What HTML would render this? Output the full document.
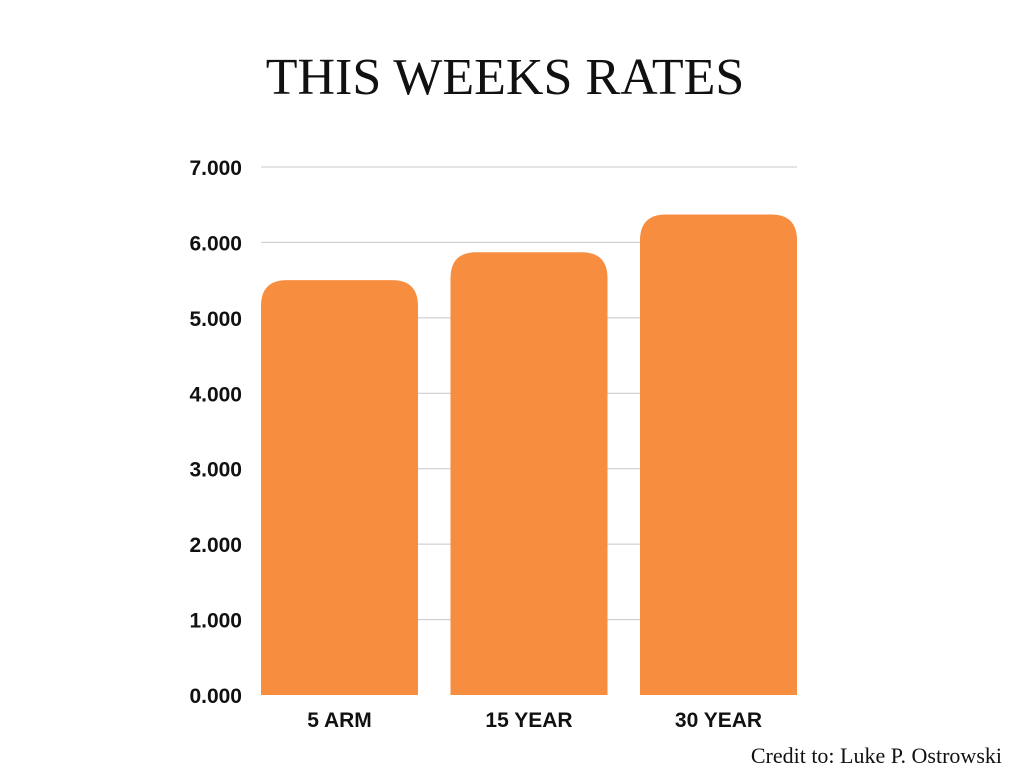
<!DOCTYPE html>
<html><head><meta charset="utf-8"><style>
body{margin:0;background:#fff;width:1024px;height:768px;overflow:hidden}
svg text{font-family:"Liberation Sans",sans-serif}
</style></head><body>
<svg width="1024" height="768">
<text x="505" y="94" text-anchor="middle" font-family="Liberation Serif, serif" style="font-family:'Liberation Serif',serif" font-size="52" fill="#111">THIS WEEKS RATES</text>
<g id="grid"></g>
<g id="yticks"></g>
<g id="bars"></g>
<g id="xticks"></g>
<text x="1002" y="763" text-anchor="end" style="font-family:'Liberation Serif',serif" font-size="22" fill="#111">Credit to: Luke P. Ostrowski</text>
</svg>
<script>
const categories=["5 ARM","15 YEAR","30 YEAR"];
const values=[5.50,5.87,6.37];
const tickLabels=["0.000","1.000","2.000","3.000","4.000","5.000","6.000","7.000"];
const tickValues=[0,1,2,3,4,5,6,7];
const NS="http://www.w3.org/2000/svg";
const y0=695,y1=167,vmax=7;
const yS=v=>y0-(y0-y1)*v/vmax;
const plotL=261,plotR=797,bw=157,step=189.5;
const xS=i=>plotL+i*step;
function mk(t,a){const e=document.createElementNS(NS,t);for(const k in a)e.setAttribute(k,a[k]);return e;}
tickValues.forEach((v,i)=>{
 if(v>0){const l=mk("line",{x1:plotL,x2:plotR,y1:yS(v),y2:yS(v),stroke:"#c8c8c8","stroke-width":1});
 
 
 document.getElementById("grid").appendChild(l);}
 const t=mk("text",{x:242,y:yS(v)+8,"text-anchor":"end","font-size":21,"font-weight":"bold",fill:"#111"});
 t.textContent=tickLabels[i];
 
 
 document.getElementById("yticks").appendChild(t);
});
values.forEach((v,i)=>{
 const x=xS(i),top=yS(v),r=26;
 const p=mk("path",{d:`M${x},${y0}V${top+r}Q${x},${top} ${x+r},${top}H${x+bw-r}Q${x+bw},${top} ${x+bw},${top+r}V${y0}Z`,fill:"#f78d3f"});
 
 
 document.getElementById("bars").appendChild(p);
 const t=mk("text",{x:x+bw/2,y:727,"text-anchor":"middle","font-size":21,"font-weight":"bold",fill:"#111"});
 t.textContent=categories[i];
 
 
 document.getElementById("xticks").appendChild(t);
});
</script>
</body></html>
